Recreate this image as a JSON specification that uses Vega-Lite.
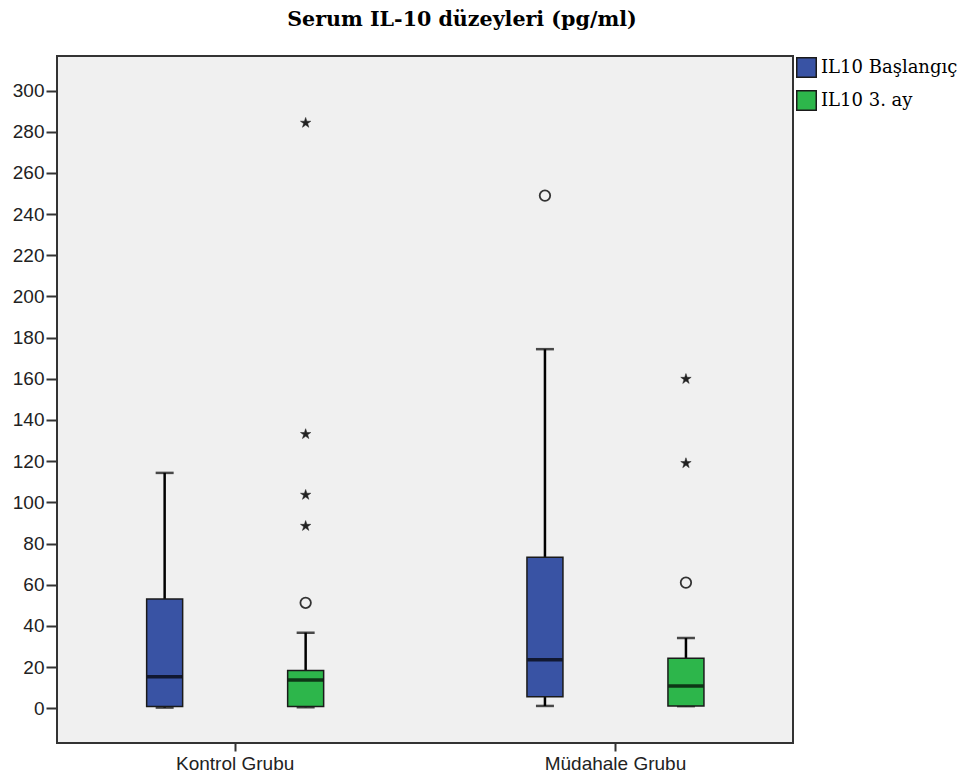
{
  "$schema": "https://vega.github.io/schema/vega-lite/v6.json",
  "autosize": "none",
  "width": 736,
  "height": 687,
  "padding": {"left": 57, "top": 56, "right": 177, "bottom": 37},
  "background": "white",
  "title": {
    "text": "Serum IL-10 düzeyleri (pg/ml)",
    "font": "DejaVu Serif",
    "fontSize": 20.6,
    "fontWeight": "bold",
    "color": "#000000",
    "anchor": "middle",
    "dx": 37,
    "offset": 25
  },
  "config": {
    "view": {"fill": "#f0f0f0", "stroke": "#333333", "strokeWidth": 2},
    "axis": {"grid": false}
  },
  "datasets": {
    "boxes": [
      {"group": "Kontrol Grubu", "series": "IL10 Başlangıç", "lower": 0.3, "q1": 0.8, "median": 15.3, "q3": 53.1, "upper": 114.3},
      {"group": "Kontrol Grubu", "series": "IL10 3. ay", "lower": 0.5, "q1": 0.8, "median": 13.7, "q3": 18.3, "upper": 36.7},
      {"group": "Müdahale Grubu", "series": "IL10 Başlangıç", "lower": 1.1, "q1": 5.6, "median": 23.5, "q3": 73.3, "upper": 174.4},
      {"group": "Müdahale Grubu", "series": "IL10 3. ay", "lower": 1.0, "q1": 1.1, "median": 10.8, "q3": 24.3, "upper": 34.1}
    ],
    "outliers": [
      {"group": "Kontrol Grubu", "series": "IL10 3. ay", "value": 51.2, "kind": "circle"},
      {"group": "Kontrol Grubu", "series": "IL10 3. ay", "value": 88.5, "kind": "star"},
      {"group": "Kontrol Grubu", "series": "IL10 3. ay", "value": 103.6, "kind": "star"},
      {"group": "Kontrol Grubu", "series": "IL10 3. ay", "value": 133.1, "kind": "star"},
      {"group": "Kontrol Grubu", "series": "IL10 3. ay", "value": 284.3, "kind": "star"},
      {"group": "Müdahale Grubu", "series": "IL10 Başlangıç", "value": 249.0, "kind": "circle"},
      {"group": "Müdahale Grubu", "series": "IL10 3. ay", "value": 61.0, "kind": "circle"},
      {"group": "Müdahale Grubu", "series": "IL10 3. ay", "value": 119.0, "kind": "star"},
      {"group": "Müdahale Grubu", "series": "IL10 3. ay", "value": 159.9, "kind": "star"}
    ]
  },
  "encoding": {
    "x": {
      "field": "group",
      "type": "nominal",
      "title": null,
      "scale": {"domain": ["Kontrol Grubu", "Müdahale Grubu"], "range": [-12, 748.6], "paddingInner": 0, "paddingOuter": 0},
      "axis": {
        "labelAngle": 0,
        "labelFont": "Liberation Sans",
        "labelFontSize": 19,
        "labelColor": "#222222",
        "labelPadding": 3,
        "domain": false,
        "tickColor": "#333333",
        "tickWidth": 2,
        "tickSize": 8,
        "ticks": true
      }
    },
    "xOffset": {
      "field": "series",
      "type": "nominal",
      "scale": {"domain": ["IL10 Başlangıç", "IL10 3. ay"], "paddingInner": 0, "paddingOuter": 0.3486}
    }
  },
  "layer": [
    {
      "data": {"name": "boxes"},
      "mark": {"type": "rule", "color": "#000000", "strokeWidth": 2.5},
      "encoding": {
        "y": {
          "field": "lower",
          "type": "quantitative",
          "title": null,
          "scale": {"domain": [-16.9, 316.8], "nice": false, "zero": false},
          "axis": {
            "values": [0, 20, 40, 60, 80, 100, 120, 140, 160, 180, 200, 220, 240, 260, 280, 300],
            "labelFont": "Liberation Sans",
            "labelFontSize": 19,
            "labelColor": "#222222",
            "labelPadding": 2,
            "domain": false,
            "tickColor": "#333333",
            "tickWidth": 2,
            "tickSize": 11
          }
        },
        "y2": {"field": "upper"}
      }
    },
    {
      "data": {"name": "boxes"},
      "mark": {"type": "tick", "color": "#000000", "thickness": 2.5, "size": 18},
      "encoding": {"y": {"field": "upper", "type": "quantitative"}}
    },
    {
      "data": {"name": "boxes"},
      "mark": {"type": "tick", "color": "#000000", "thickness": 2.5, "size": 18},
      "encoding": {"y": {"field": "lower", "type": "quantitative"}}
    },
    {
      "data": {"name": "boxes"},
      "mark": {"type": "bar", "width": 36, "stroke": "#1a1a1a", "strokeWidth": 1.5, "opacity": 1},
      "encoding": {
        "y": {"field": "q1", "type": "quantitative"},
        "y2": {"field": "q3"},
        "color": {
          "field": "series",
          "type": "nominal",
          "scale": {"domain": ["IL10 Başlangıç", "IL10 3. ay"], "range": ["#3953A4", "#2DB64B"]},
          "legend": {
            "title": null,
            "orient": "none",
            "legendX": 739,
            "legendY": 1,
            "symbolType": "square",
            "symbolSize": 380,
            "symbolStrokeColor": "#1a1a1a",
            "symbolStrokeWidth": 1.5,
            "symbolOpacity": 1,
            "labelFont": "DejaVu Serif",
            "labelFontSize": 18,
            "labelColor": "#000000",
            "labelOffset": 4,
            "rowPadding": 6,
            "padding": 0,
            "labelLimit": 300
          }
        }
      }
    },
    {
      "data": {"name": "boxes"},
      "mark": {"type": "tick", "color": "#000000", "thickness": 3.5, "size": 35},
      "encoding": {"y": {"field": "median", "type": "quantitative"}}
    },
    {
      "data": {"name": "outliers"},
      "transform": [{"filter": "datum.kind === 'circle'"}],
      "mark": {"type": "point", "shape": "circle", "size": 110, "filled": false, "stroke": "#333333", "strokeWidth": 1.8, "opacity": 1},
      "encoding": {"y": {"field": "value", "type": "quantitative"}}
    },
    {
      "data": {"name": "outliers"},
      "transform": [{"filter": "datum.kind === 'star'"}],
      "mark": {
        "type": "point",
        "shape": "M0,-1L0.2245,-0.309L0.951,-0.309L0.363,0.118L0.588,0.809L0,0.382L-0.588,0.809L-0.363,0.118L-0.951,-0.309L-0.2245,-0.309Z",
        "size": 120,
        "filled": true,
        "fill": "#222222",
        "stroke": "#222222",
        "strokeWidth": 0.5,
        "opacity": 1
      },
      "encoding": {"y": {"field": "value", "type": "quantitative"}}
    }
  ]
}
